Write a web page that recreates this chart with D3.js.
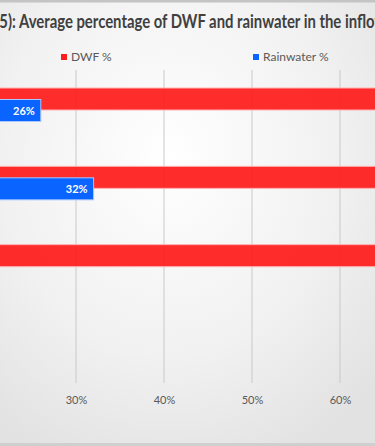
<!DOCTYPE html>
<html><head><meta charset="utf-8">
<script src="https://cdn.jsdelivr.net/npm/d3@7"></script>
<style>html,body{margin:0;padding:0;background:#fff;overflow:hidden}</style>
</head><body>
<svg id="c" width="375" height="446"></svg>
<script>
const categories = ["Site C", "Site B", "Site A"];
const dwfValues = [74, 68, 80];
const rainValues = [26, 32, 20];
const seriesNames = ["DWF %", "Rainwater %"];
const tickValues = [30, 40, 50, 60];
const titleText = "Figure (5): Average percentage of DWF and rainwater in the inflow";

const svg = d3.select("#c");
const W = 375, H = 446;
const defs = svg.append("defs");
const rg = defs.append("radialGradient").attr("id", "bg").attr("cx", "45%").attr("cy", "35%").attr("r", "75%");
rg.append("stop").attr("offset", "0%").attr("stop-color", "#ffffff");
rg.append("stop").attr("offset", "60%").attr("stop-color", "#f1f1f1");
rg.append("stop").attr("offset", "100%").attr("stop-color", "#e2e2e2");

svg.append("rect").attr("width", W).attr("height", H).attr("fill", "url(#bg)");
svg.append("rect").attr("x", 0).attr("y", 0).attr("width", W).attr("height", 2.5).attr("fill", "#c4c4c4");
svg.append("rect").attr("x", 0).attr("y", 443).attr("width", W).attr("height", 3).attr("fill", "#cfcfcf");

const x = d3.scaleLinear().domain([0, 100]).range([-188, 692]);
const y = d3.scaleBand().domain(categories).range([70, 305]);
const plotTop = 70, plotBottom = 383;

// gridlines
svg.append("g").selectAll("line").data(tickValues).join("line")
  .attr("x1", d => x(d)).attr("x2", d => x(d))
  .attr("y1", plotTop).attr("y2", plotBottom)
  .attr("stroke", "#c9c9c9").attr("stroke-width", 1);

// axis labels
const ax = svg.append("g").attr("transform", `translate(0,${plotBottom})`)
  .call(d3.axisBottom(x).tickValues(tickValues).tickSize(0).tickPadding(13).tickFormat(d => d + "%"));
ax.select(".domain").remove();
ax.selectAll("text").attr("fill", "#595959").style("font-family", "Lato, 'Open Sans', sans-serif").style("font-size", "11px");

// bars
const g = svg.append("g");
g.selectAll("rect.dwf").data(categories).join("rect").attr("class", "dwf")
  .attr("x", x(0)).attr("y", d => y(d) + 18)
  .attr("width", (d, i) => x(dwfValues[i]) - x(0)).attr("height", 22)
  .attr("fill", "#ff1c1c").attr("fill-opacity", 0.93)
  .attr("stroke", "#ffb0b0").attr("stroke-width", 1);
g.selectAll("rect.rain").data(categories).join("rect").attr("class", "rain")
  .attr("x", x(0)).attr("y", d => y(d) + 29.5)
  .attr("width", (d, i) => x(rainValues[i]) - x(0)).attr("height", 22)
  .attr("fill", "#0a64ff")
  .attr("stroke", "#a8c8ff").attr("stroke-width", 1);

// labels on visible bar ends only
const rainLab = categories.map((c, i) => ({c, v: rainValues[i]})).filter(d => x(d.v) > 30);
g.selectAll("text.rl").data(rainLab).join("text").attr("class", "rl")
  .attr("x", d => x(d.v) - 6).attr("y", d => y(d.c) + 44.5)
  .attr("text-anchor", "end").attr("fill", "#fff")
  .style("font-family", "Lato, sans-serif").style("font-size", "11px").style("font-weight", "bold")
  .text(d => d.v + "%");

// legend
const leg = [{n: seriesNames[0], c: "#ff1c1c", x: 61}, {n: seriesNames[1], c: "#0a64ff", x: 253}];
const lg = svg.append("g");
lg.selectAll("rect").data(leg).join("rect").attr("x", d => d.x).attr("y", 54).attr("width", 6).attr("height", 6).attr("fill", d => d.c);
lg.selectAll("text").data(leg).join("text").attr("x", d => d.x + 10).attr("y", 61)
  .attr("fill", "#595959").style("font-family", "Lato, 'Open Sans', sans-serif").style("font-size", "12px").text(d => d.n);

// title (clipped on both sides like the reference crop)
const visible = "Average percentage of DWF and rainwater in the inflo";
const startIdx = titleText.indexOf("Average");
const tg = svg.append("g");
const t = tg.append("text").attr("x", 0).attr("y", 28).attr("fill", "#404040")
  .style("font-family", "Lato, sans-serif").style("font-size", "19px").style("font-weight", "bold");
t.text(visible);
const vw = t.node().getComputedTextLength();
const sx = 356 / vw;
t.text(titleText);
const px = t.node().getStartPositionOfChar(startIdx).x * sx;
tg.attr("transform", `translate(${19 - px},0) scale(${sx},1)`);
</script>
</body></html>
